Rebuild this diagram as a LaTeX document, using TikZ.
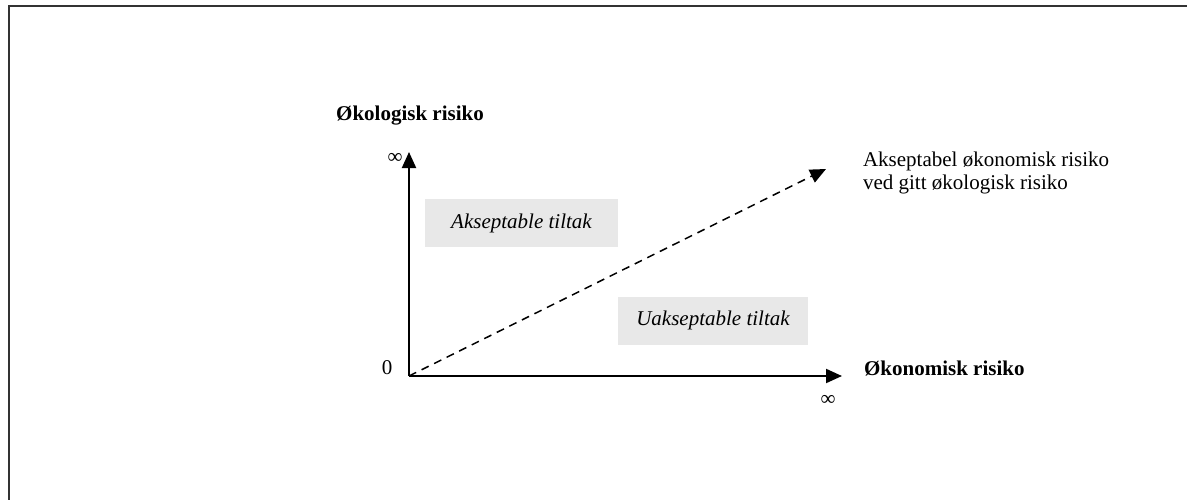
\documentclass[tikz,border=0pt]{standalone}
\usepackage{fontspec}
\setmainfont{Liberation Serif}
\usetikzlibrary{arrows.meta}
\definecolor{framegray}{RGB}{51,51,51}
\definecolor{boxgray}{RGB}{232,232,232}
\tikzset{riskplot/.style={x=0.5pt,y=0.5pt,font=\fontsize{10.5}{11.5}\selectfont}}
\tikzset{axis/.style={line width=1pt,-{Triangle[length=8pt,width=7pt]}},
         limit/.style={line width=0.75pt,dash pattern=on 4pt off 3pt,-{Triangle[length=8pt,width=7pt]}},
         zone/.style={fill=boxgray,minimum width=96.5pt,minimum height=24pt,font=\fontsize{10.5}{11.5}\itshape}}

\begin{document}
\begin{tikzpicture}[riskplot]
    \useasboundingbox (0,0) rectangle (1187,499);
    \draw[framegray,line width=1pt] (8.5,-10) -- (8.5,492.5) -- (1200,492.5);
    % axes
    \coordinate (o)    at (409,123);
    \coordinate (ytop) at (409,347);
    \coordinate (xend) at (842,123);
    \coordinate (lim)  at (826,330);
    \draw[axis] (o) -- (ytop);
    \draw[axis] (o) -- (xend);
    \draw[limit] (o) -- (lim);
    \node (yinf) at (395,341) {∞};
    \node (zero) at (387,131) {0};
    \node (xinf) at (828,99) {∞};
    \node[font=\fontsize{10.5}{11.5}\bfseries] (ylab) at (410,383) {Økologisk risiko};
    \node[font=\fontsize{10.5}{11.5}\bfseries,anchor=west] (xlab) at (857,131) {Økonomisk risiko};
    \node[anchor=west,align=left] (limlab) at (856,326.5) {Akseptabel økonomisk risiko\\ved gitt økologisk risiko};
    % regions
    \node[zone] (ok)  at (521.5,276) {Akseptable tiltak};
    \node[zone,minimum width=95pt] (bad) at (713,178.5) {Uakseptable tiltak};
\end{tikzpicture}
\end{document}
